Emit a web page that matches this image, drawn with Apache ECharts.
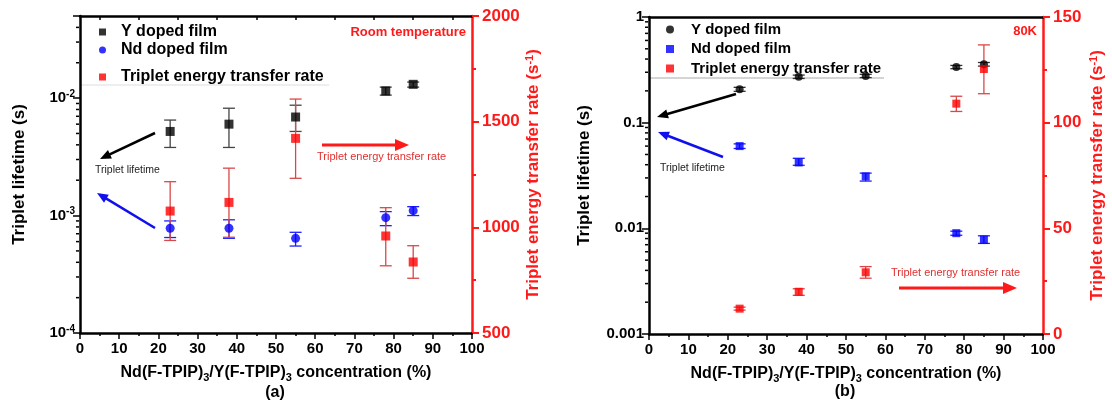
<!DOCTYPE html>
<html>
<head>
<meta charset="utf-8">
<script src="https://cdn.jsdelivr.net/npm/echarts@6/dist/echarts.min.js"></script>
<style>
  html, body { margin: 0; padding: 0; background: #fff; }
  #main { width: 1112px; height: 405px; }
</style>
</head>
<body>
<div id="main"></div>
<script>
// concentration (%)
const xs = [23, 38, 55, 78, 85];

// panel (a) room temperature
const yLifeA = [0.0052, 0.0060, 0.0069, 0.0115, 0.0131];
const yLifeALo = [0.0038, 0.0038, 0.0052, 0.0106, 0.0124];
const yLifeAHi = [0.0065, 0.0082, 0.0087, 0.0124, 0.0137];
const ndLifeA = [0.00078, 0.00078, 0.00064, 0.00096, 0.0011];
const ndLifeALo = [0.00065, 0.00064, 0.00055, 0.00082, 0.0010];
const ndLifeAHi = [0.00090, 0.00092, 0.00072, 0.00108, 0.00119];
const rateA = [1077, 1118, 1421, 959, 836];
const rateALo = [938, 953, 1232, 818, 759];
const rateAHi = [1216, 1280, 1607, 1093, 913];

// panel (b) 80K
const yLifeB = [0.207, 0.272, 0.277, 0.336, 0.357];
const yLifeBLo = [0.198, 0.262, 0.267, 0.324, 0.343];
const yLifeBHi = [0.216, 0.282, 0.287, 0.348, 0.371];
const ndLifeB = [0.060, 0.042, 0.031, 0.0090, 0.0078];
const ndLifeBLo = [0.057, 0.0395, 0.028, 0.0086, 0.0072];
const ndLifeBHi = [0.063, 0.046, 0.0333, 0.0094, 0.0085];
const rateB = [12, 20, 29.2, 109, 125.4];
const rateBLo = [11.3, 18.3, 26.4, 105.3, 113.7];
const rateBHi = [12.7, 21.4, 31.9, 112.5, 136.8];

// log axis minor ticks
const minorTicksA = [2e-4, 3e-4, 4e-4, 5e-4, 6e-4, 7e-4, 8e-4, 9e-4,
  2e-3, 3e-3, 4e-3, 5e-3, 6e-3, 7e-3, 8e-3, 9e-3, 2e-2, 3e-2, 4e-2];
const minorTicksB = [0.002, 0.003, 0.004, 0.005, 0.006, 0.007, 0.008, 0.009,
  0.02, 0.03, 0.04, 0.05, 0.06, 0.07, 0.08, 0.09,
  0.2, 0.3, 0.4, 0.5, 0.6, 0.7, 0.8, 0.9];
// inner ticks on the top frame of panel (a)
const topTicksA = [5, 15, 25, 35, 45, 55, 65, 75, 85, 95];

const FONT = 'Arial, "Liberation Sans", sans-serif';
const RED = '#ff1a1a';

const pts = (ys) => xs.map((x, i) => [x, ys[i]]);
const errs = (lo, hi) => xs.map((x, i) => [x, lo[i], hi[i]]);

const errRender = (color, cap) => (params, api) => {
  const x = api.value(0);
  const a = api.coord([x, api.value(2)]);
  const b = api.coord([x, api.value(1)]);
  const st = { stroke: color, lineWidth: 1.3 };
  return {
    type: 'group',
    children: [
      { type: 'line', shape: { x1: a[0], y1: a[1], x2: b[0], y2: b[1] }, style: st },
      { type: 'line', shape: { x1: a[0] - cap, y1: a[1], x2: a[0] + cap, y2: a[1] }, style: st },
      { type: 'line', shape: { x1: b[0] - cap, y1: b[1], x2: b[0] + cap, y2: b[1] }, style: st }
    ]
  };
};

const errSeries = (name, xi, yi, data, color, cap) => ({
  name: name, type: 'custom', xAxisIndex: xi, yAxisIndex: yi,
  data: data, renderItem: errRender(color, cap), clip: false, silent: true, z: 2
});

const minorTickSeries = (xi, yi, data) => ({
  name: 'minor' + yi, type: 'custom', xAxisIndex: xi, yAxisIndex: yi,
  data: data.map(v => [0, v]), clip: false, silent: true, z: 5,
  renderItem: (params, api) => {
    const p = api.coord([0, api.value(1)]);
    return { type: 'line', shape: { x1: p[0] - 4, y1: p[1], x2: p[0] - 1, y2: p[1] },
      style: { stroke: '#000', lineWidth: 1.5 } };
  }
});

const xAxisBase = (gi) => ({
  type: 'value', gridIndex: gi, min: 0, max: 100, interval: 10,
  name: 'Nd(F-TPIP){sub|3}/Y(F-TPIP){sub|3} concentration (%)',
  nameLocation: 'middle', nameGap: 29,
  nameTextStyle: { fontFamily: FONT, fontSize: 16, fontWeight: 'bold', color: '#000',
    rich: { sub: { fontFamily: FONT, fontSize: 11, fontWeight: 'bold', padding: [10, 0, 0, 0] } } },
  axisLine: { onZero: false, lineStyle: { color: '#000', width: 2.5 } },
  axisTick: { length: 6, lineStyle: { color: '#000', width: 1.5 } },
  minorTick: { show: true, splitNumber: 2, length: 3, lineStyle: { color: '#000', width: 1.5 } },
  axisLabel: { fontFamily: FONT, fontSize: 15, fontWeight: 'bold', color: '#000', margin: 8 },
  splitLine: { show: false }
});
const xAxisTop = (gi, ticks) => ({
  type: 'value', gridIndex: gi, min: 0, max: 100, interval: 10, position: 'top',
  axisLine: { onZero: false, lineStyle: { color: '#000', width: 2.5 } },
  axisTick: ticks ? { show: true, inside: true, length: 4, customValues: ticks,
    lineStyle: { color: '#000', width: 1.5 } } : { show: false },
  axisLabel: { show: false }, splitLine: { show: false }
});

const lifeName = {
  name: 'Triplet lifetime (s)', nameLocation: 'middle',
  nameTextStyle: { fontFamily: FONT, fontSize: 17, fontWeight: 'bold', color: '#000' }
};
const rateName = {
  name: 'Triplet energy transfer rate (s{sup|-1})', nameLocation: 'middle', nameRotate: 90,
  nameTextStyle: { fontFamily: FONT, fontSize: 17, fontWeight: 'bold', color: RED,
    rich: { sup: { fontFamily: FONT, fontSize: 11, fontWeight: 'bold', color: RED, padding: [0, 0, 8, 0] } } }
};

const legendBase = (left, top, gap, size, icon, pad, names) => ({
  left: left, top: top, orient: 'vertical', padding: 0, itemGap: gap,
  itemWidth: icon, itemHeight: icon, selectedMode: false, data: names,
  textStyle: { fontFamily: FONT, fontSize: size, fontWeight: 'bold', color: '#000', padding: [0, 0, 0, pad] }
});

function arrow(x1, y1, x2, y2, color, w, head) {
  const ang = Math.atan2(y2 - y1, x2 - x1);
  const c = Math.cos(ang), s = Math.sin(ang);
  const bx = x2 - head * c, by = y2 - head * s, hw = head * 0.42;
  return {
    type: 'group', silent: true, children: [
      { type: 'line', shape: { x1: x1, y1: y1, x2: bx + 2 * c, y2: by + 2 * s }, style: { stroke: color, lineWidth: w } },
      { type: 'polygon', shape: { points: [[x2, y2], [bx + hw * s, by - hw * c], [bx - hw * s, by + hw * c]] }, style: { fill: color } }
    ]
  };
}
function label(text, x, y, color, size, weight, align) {
  return { type: 'text', silent: true, x: x, y: y,
    style: { text: text, fill: color, fontFamily: FONT, fontSize: size, fontWeight: weight,
      align: align || 'left', verticalAlign: 'middle' } };
}

const isDecade = v => Math.abs(Math.log10(v) - Math.round(Math.log10(v))) < 1e-6;

const chart = echarts.init(document.getElementById('main'));
chart.setOption({
  animation: false,
  backgroundColor: '#fff',
  grid: [
    { left: 80, right: 640, top: 16, bottom: 72 },
    { left: 649, right: 69, top: 17, bottom: 71 }
  ],
  xAxis: [xAxisBase(0), xAxisTop(0, topTicksA), xAxisBase(1), xAxisTop(1, null)],
  yAxis: [
    Object.assign({
      type: 'log', logBase: 10, gridIndex: 0, min: 1e-4, max: 0.05, nameGap: 52,
      axisLine: { onZero: false, lineStyle: { color: '#000', width: 2.5 } },
      axisTick: { length: 7, lineStyle: { color: '#000', width: 1.5 } },
      axisLabel: { fontFamily: FONT, fontSize: 15, fontWeight: 'bold', color: '#000', margin: 5,
        formatter: v => isDecade(v) ? '10{sup|' + Math.round(Math.log10(v)) + '}' : '',
        rich: { sup: { fontFamily: FONT, fontSize: 10, fontWeight: 'bold', color: '#000', padding: [0, 0, 8, 0] } } },
      splitLine: { show: false }
    }, lifeName),
    Object.assign({
      type: 'value', gridIndex: 0, min: 500, max: 2000, interval: 500, position: 'right', nameGap: 52,
      axisLine: { onZero: false, lineStyle: { color: RED, width: 2.5 } },
      axisTick: { length: 7, lineStyle: { color: RED, width: 2 } },
      minorTick: { show: true, splitNumber: 2, length: 4, lineStyle: { color: RED, width: 2 } },
      axisLabel: { fontFamily: FONT, fontSize: 17, fontWeight: 'bold', color: RED, margin: 10,
        formatter: v => String(v) },
      splitLine: { show: false }
    }, rateName),
    Object.assign({
      type: 'log', logBase: 10, gridIndex: 1, min: 0.001, max: 1, nameGap: 56,
      axisLine: { onZero: false, lineStyle: { color: '#000', width: 2.5 } },
      axisTick: { length: 7, lineStyle: { color: '#000', width: 1.5 } },
      axisLabel: { fontFamily: FONT, fontSize: 15, fontWeight: 'bold', color: '#000', margin: 5,
        formatter: v => isDecade(v) ? String(+v.toPrecision(1)) : '' },
      splitLine: { show: false }
    }, lifeName),
    Object.assign({
      type: 'value', gridIndex: 1, min: 0, max: 150, interval: 50, position: 'right', nameGap: 45,
      axisLine: { onZero: false, lineStyle: { color: RED, width: 2.5 } },
      axisTick: { length: 7, lineStyle: { color: RED, width: 2 } },
      minorTick: { show: true, splitNumber: 2, length: 4, lineStyle: { color: RED, width: 2 } },
      axisLabel: { fontFamily: FONT, fontSize: 17, fontWeight: 'bold', color: RED, margin: 10,
        formatter: v => String(v) },
      splitLine: { show: false }
    }, rateName)
  ],
  legend: [
    legendBase(99, 24, 2, 16, 7, 10, [
      { name: 'Y doped film', icon: 'rect' },
      { name: 'Nd doped film', icon: 'circle' }
    ]),
    legendBase(99, 69, 1, 16, 7, 10, [
      { name: 'Triplet energy transfer rate', icon: 'rect' }
    ]),
    legendBase(666, 22, 4.5, 15, 8, 12, [
      { name: 'Y doped film', icon: 'circle' },
      { name: 'Nd doped film', icon: 'rect' },
      { name: 'Triplet energy transfer rate', icon: 'rect' }
    ])
  ],
  series: [
    minorTickSeries(0, 0, minorTicksA),
    minorTickSeries(2, 2, minorTicksB),
    // panel (a)
    errSeries('errYA', 0, 0, errs(yLifeALo, yLifeAHi), '#444', 6),
    errSeries('errNdA', 0, 0, errs(ndLifeALo, ndLifeAHi), '#2020ff', 6),
    errSeries('errRateA', 0, 1, errs(rateALo, rateAHi), '#d84848', 6),
    { name: 'Y doped film', type: 'scatter', xAxisIndex: 0, yAxisIndex: 0, data: pts(yLifeA),
      symbol: 'rect', symbolSize: 9, itemStyle: { color: '#000' }, z: 3 },
    { name: 'Nd doped film', type: 'scatter', xAxisIndex: 0, yAxisIndex: 0, data: pts(ndLifeA),
      symbol: 'circle', symbolSize: 9, itemStyle: { color: '#0000ff' }, z: 3 },
    { name: 'Triplet energy transfer rate', type: 'scatter', xAxisIndex: 0, yAxisIndex: 1, data: pts(rateA),
      symbol: 'rect', symbolSize: 9, itemStyle: { color: '#ff0000' }, z: 3 },
    // panel (b)
    errSeries('errYB', 2, 2, errs(yLifeBLo, yLifeBHi), '#333', 6),
    errSeries('errNdB', 2, 2, errs(ndLifeBLo, ndLifeBHi), '#2020ff', 6),
    errSeries('errRateB', 2, 3, errs(rateBLo, rateBHi), '#d84848', 6),
    { name: 'Y doped film', type: 'scatter', xAxisIndex: 2, yAxisIndex: 2, data: pts(yLifeB),
      symbol: 'circle', symbolSize: 8, itemStyle: { color: '#000' }, z: 3 },
    { name: 'Nd doped film', type: 'scatter', xAxisIndex: 2, yAxisIndex: 2, data: pts(ndLifeB),
      symbol: 'rect', symbolSize: 8, itemStyle: { color: '#0000ff' }, z: 3 },
    { name: 'Triplet energy transfer rate', type: 'scatter', xAxisIndex: 2, yAxisIndex: 3, data: pts(rateB),
      symbol: 'rect', symbolSize: 8, itemStyle: { color: '#ff0000' }, z: 3 }
  ],
  graphic: [
    // faint legend frame edges
    { type: 'line', silent: true, shape: { x1: 81, y1: 85, x2: 329, y2: 85 }, style: { stroke: '#dddddd', lineWidth: 1 } },
    { type: 'line', silent: true, shape: { x1: 650, y1: 78, x2: 884, y2: 78 }, style: { stroke: '#aaaaaa', lineWidth: 1 } },
    // panel (a) annotations
    label('Room temperature', 466, 32, RED, 13, 'bold', 'right'),
    arrow(155, 133, 100, 159, '#000', 2.5, 11),
    label('Triplet lifetime', 95, 170, '#222', 10.5, 'normal'),
    arrow(155, 228, 97, 193, '#1010ee', 2.5, 11),
    arrow(322, 145, 409, 145, RED, 3, 14),
    label('Triplet energy transfer rate', 317, 157, '#e03030', 11, 'normal'),
    label('(a)', 275, 393, '#000', 16, 'bold', 'center'),
    // panel (b) annotations
    label('80K', 1037, 31, RED, 13, 'bold', 'right'),
    arrow(736, 94, 657, 117, '#000', 2.5, 11),
    arrow(723, 157, 658, 132, '#1010ee', 2.5, 11),
    label('Triplet lifetime', 660, 168, '#222', 10.5, 'normal'),
    label('Triplet energy transfer rate', 891, 273, '#e03030', 11, 'normal'),
    arrow(899, 288, 1017, 288, RED, 3, 14),
    label('(b)', 845, 392, '#000', 16, 'bold', 'center')
  ]
});
window.addEventListener('resize', () => { chart.resize(); });
</script>
</body>
</html>
